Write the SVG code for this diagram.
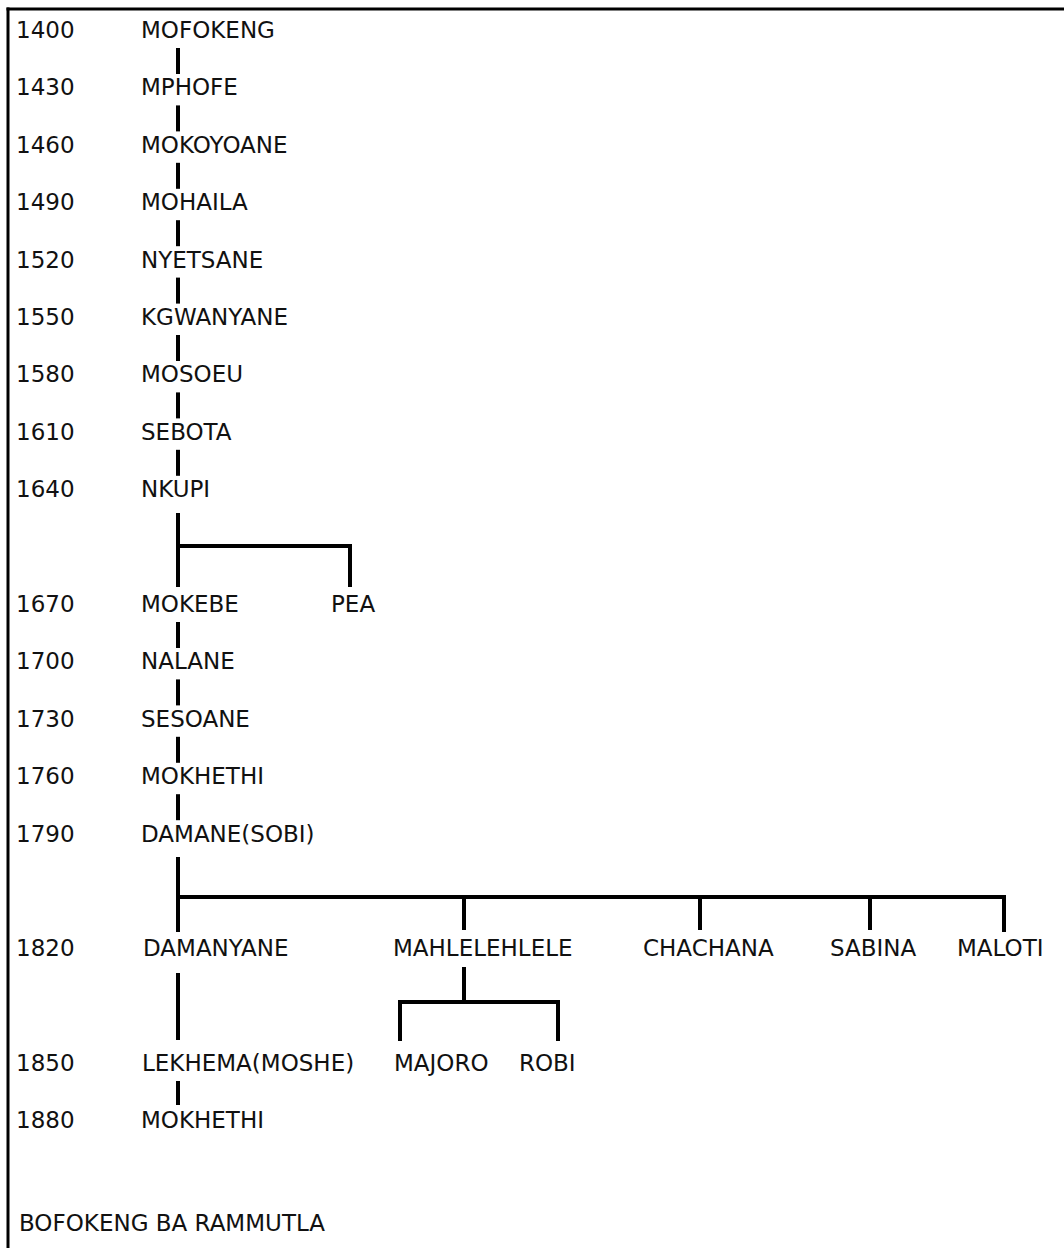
<svg xmlns="http://www.w3.org/2000/svg" width="1064" height="1248" viewBox="0 0 1064 1248">
<style>
text{font-family:"DejaVu Sans","Liberation Sans",sans-serif;font-size:23px;fill:#111}
.c line{stroke:#000;stroke-width:4;stroke-linecap:butt}
.f line{stroke:#000;stroke-width:3}
</style>
<rect width="1064" height="1248" fill="#fff"/>
<g class="f" id="frame">
<line x1="6.5" y1="9" x2="1064" y2="9"/>
<line x1="8" y1="7.5" x2="8" y2="1248"/>
</g>
<g id="years">
<text x="16" y="38">1400</text>
<text x="16" y="95.4">1430</text>
<text x="16" y="152.8">1460</text>
<text x="16" y="210.2">1490</text>
<text x="16" y="267.6">1520</text>
<text x="16" y="325">1550</text>
<text x="16" y="382.4">1580</text>
<text x="16" y="439.8">1610</text>
<text x="16" y="497.2">1640</text>
<text x="16" y="612">1670</text>
<text x="16" y="669.4">1700</text>
<text x="16" y="726.8">1730</text>
<text x="16" y="784.2">1760</text>
<text x="16" y="841.6">1790</text>
<text x="16" y="956.4">1820</text>
<text x="16" y="1071">1850</text>
<text x="16" y="1128.4">1880</text>
</g>
<g class="c" id="connectors">
<line x1="178" y1="48" x2="178" y2="74"/>
<line x1="178" y1="105.4" x2="178" y2="131.4"/>
<line x1="178" y1="162.8" x2="178" y2="188.8"/>
<line x1="178" y1="220.2" x2="178" y2="246.2"/>
<line x1="178" y1="277.6" x2="178" y2="303.6"/>
<line x1="178" y1="335" x2="178" y2="361"/>
<line x1="178" y1="392.4" x2="178" y2="418.4"/>
<line x1="178" y1="449.8" x2="178" y2="475.8"/>
<line x1="178" y1="513" x2="178" y2="587"/>
<line x1="176" y1="546" x2="352" y2="546"/>
<line x1="350" y1="544" x2="350" y2="587"/>
<line x1="178" y1="622" x2="178" y2="648"/>
<line x1="178" y1="679.4" x2="178" y2="705.4"/>
<line x1="178" y1="736.8" x2="178" y2="762.8"/>
<line x1="178" y1="794.2" x2="178" y2="820.2"/>
<line x1="178" y1="857" x2="178" y2="932"/>
<line x1="176" y1="897" x2="1006" y2="897"/>
<line x1="464" y1="897" x2="464" y2="930"/>
<line x1="700" y1="897" x2="700" y2="930"/>
<line x1="870" y1="897" x2="870" y2="930"/>
<line x1="1004" y1="895" x2="1004" y2="932"/>
<line x1="178" y1="973" x2="178" y2="1040"/>
<line x1="464" y1="967" x2="464" y2="1002"/>
<line x1="398" y1="1002" x2="560" y2="1002"/>
<line x1="400" y1="1000" x2="400" y2="1041"/>
<line x1="558" y1="1000" x2="558" y2="1041"/>
<line x1="178" y1="1081" x2="178" y2="1105"/>
</g>
<g id="n-mofokeng"><text x="141" y="38">MOFOKENG</text></g>
<g id="n-mphofe"><text x="141" y="95.4">MPHOFE</text></g>
<g id="n-mokoyoane"><text x="141" y="152.8">MOKOYOANE</text></g>
<g id="n-mohaila"><text x="141" y="210.2">MOHAILA</text></g>
<g id="n-nyetsane"><text x="141" y="267.6">NYETSANE</text></g>
<g id="n-kgwanyane"><text x="141" y="325">KGWANYANE</text></g>
<g id="n-mosoeu"><text x="141" y="382.4">MOSOEU</text></g>
<g id="n-sebota"><text x="141" y="439.8">SEBOTA</text></g>
<g id="n-nkupi"><text x="141" y="497.2">NKUPI</text></g>
<g id="n-mokebe"><text x="141" y="612">MOKEBE</text></g>
<g id="n-pea"><text x="331" y="612">PEA</text></g>
<g id="n-nalane"><text x="141" y="669.4">NALANE</text></g>
<g id="n-sesoane"><text x="141" y="726.8">SESOANE</text></g>
<g id="n-mokhethi1"><text x="141" y="784.2">MOKHETHI</text></g>
<g id="n-damane"><text x="141" y="841.6">DAMANE(SOBI)</text></g>
<g id="n-damanyane"><text x="143" y="956.4">DAMANYANE</text></g>
<g id="n-mahlelehlele"><text x="393" y="956.4">MAHLELEHLELE</text></g>
<g id="n-chachana"><text x="643" y="956.4">CHACHANA</text></g>
<g id="n-sabina"><text x="830" y="956.4">SABINA</text></g>
<g id="n-maloti"><text x="957" y="956.4">MALOTI</text></g>
<g id="n-lekhema"><text x="142" y="1071">LEKHEMA(MOSHE)</text></g>
<g id="n-majoro"><text x="394" y="1071">MAJORO</text></g>
<g id="n-robi"><text x="519" y="1071">ROBI</text></g>
<g id="n-mokhethi2"><text x="141" y="1128.4">MOKHETHI</text></g>
<g id="title"><text x="19" y="1231">BOFOKENG BA RAMMUTLA</text></g>
</svg>
